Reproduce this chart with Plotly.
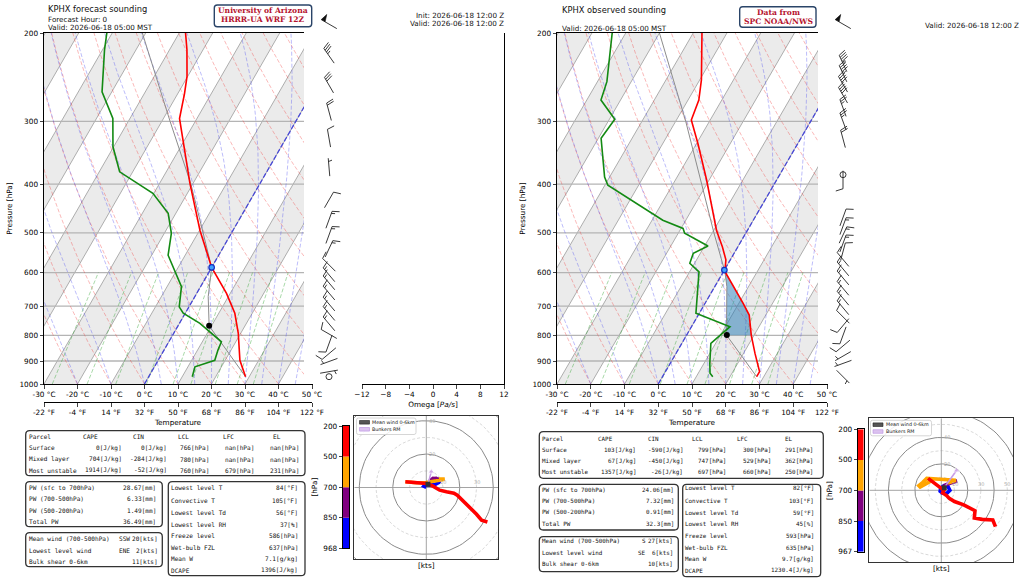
import numpy as np
import plotly.graph_objects as go

W, H = 1024, 580
SANS = "DejaVu Sans"
MONO = "DejaVu Sans Mono"
SERIF = "DejaVu Serif"

# ---------------- forecast sounding (left) ----------------
fc_t_p = [967, 938, 897, 793, 723, 660, 586, 494, 398, 296, 264, 244, 216, 200]
fc_t = [28.9, 27.1, 24.4, 19.3, 14.8, 8.9, 0.0, -9.9, -21.0, -35.2, -38.0, -40.2, -44.8, -48.1]
fc_td_p = [967, 924, 897, 856, 824, 757, 723, 702, 640, 554, 501, 457, 417, 378, 337, 296, 262, 216, 200]
fc_td = [13.0, 12.1, 16.9, 16.1, 15.7, 6.1, -0.6, -2.9, -5.7, -15.1, -17.9, -22.3, -30.3, -43.9, -50.2,
         -55.1, -62.9, -69.4, -71.6]
fc_parcel_p = [967, 766, 670, 586, 500, 400, 300, 200]
fc_parcel_t = [28.9, 9.3, 4.0, 0.0, -8.5, -20.5, -37.5, -61.0]
fc_lcl = (766, 9.3)
fc_frz = (586, 0.0)

fc_barb_p = [192, 222, 254, 287, 324, 370, 430, 471, 505, 538, 579, 606, 629, 659, 693, 724, 759, 795,
             831, 870, 902, 945, 967]
fc_barb_dir = [300, 325, 330, 345, 350, 355, 30, 20, 20, 25, 315, 320, 320, 320, 320, 320, 320, 300,
               200, 230, 250, 80, 70]
fc_barb_spd = [50, 35, 30, 20, 10, 5, 10, 15, 15, 15, 10, 15, 15, 15, 15, 15, 15, 10, 10, 10, 5, 5, 2]

# ---------------- observed sounding (right) ----------------
ob_t_p = [967, 945, 869, 800, 729, 691, 597, 566, 533, 494, 392, 332, 298, 272, 248, 200]
ob_t = [27.9, 27.9, 23.4, 19.2, 15.1, 11.3, 0.4, -1.3, -4.6, -9.2, -20.8, -29.6, -35.6, -36.8, -39.5, -47.4]
ob_td_p = [967, 952, 909, 830, 769, 723, 598, 575, 549, 531, 501, 490, 472, 402, 387, 324, 297, 272, 250, 200]
ob_td = [14.9, 13.5, 11.7, 8.6, 11.4, -1.0, -7.2, -11.4, -12.1, -9.0, -18.1, -19.4, -26.8, -49.1, -51.5,
         -59.2, -58.4, -65.8, -67.2, -74.0]
ob_parcel_p = [967, 800, 729, 691, 640, 597, 500, 400, 300, 200]
ob_parcel_t = [27.9, 11.9, 8.4, 6.4, 3.6, 0.4, -9.5, -21.5, -37.0, -60.0]
ob_lcl = (799, 11.9)
ob_frz = (593, 0.0)
ob_cin_layer = (597, 800)

ob_barb_p = [192, 230, 241, 253, 266, 282, 300, 325, 383, 392, 466, 485, 505, 525, 545, 565, 590, 615,
             645, 675, 705, 735, 765, 800, 840, 880, 910, 967]
ob_barb_dir = [300, 335, 335, 330, 330, 340, 340, 345, 0, 180, 20, 20, 25, 20, 15, 320, 320, 320, 320,
               320, 320, 315, 220, 200, 230, 240, 250, 135]
ob_barb_spd = [50, 45, 45, 40, 40, 25, 25, 20, 0, 10, 10, 15, 15, 15, 10, 10, 15, 15, 15, 15, 15, 10, 10,
               10, 10, 5, 5, 5]

# ---------------- hodographs (u, v in kts) ----------------
hodo_levels = ["968", "850", "700", "500", "200"]
hodo_levels_ob = ["967", "850", "700", "500", "200"]
layer_colors = ["blue", "purple", "orange", "red"]

fc_hodo_u = [[0.0, -1.5, -0.5, 2.5, 5.5, 7.5, 8.0],
             [8.0, 6.0, 3.5, 2.0, 4.0, 7.5],
             [7.5, 11.0, 6.0, 0.0, -6.0, -12.5],
             [-12.5, -6.0, 0.0, 4.0, 8.0, 12.0, 16.5, 18.5, 22.0, 26.0, 30.0, 33.0, 36.5]]
fc_hodo_v = [[0.0, 0.8, 2.0, 1.5, 2.0, 3.0, 4.0],
             [4.0, 5.5, 5.0, 4.0, 5.5, 5.0],
             [5.0, 5.0, 4.0, 3.0, 2.8, 3.4],
             [3.4, 3.0, 2.4, 0.8, -1.6, -2.6, -3.4, -4.6, -8.0, -12.5, -16.0, -19.6, -20.6]]
fc_mean_wind = (1.0, 2.0)
fc_bunkers = (3.0, 9.5)

ob_hodo_u = [[0.0, -1.0, -0.5, 2.0, 5.0, 6.5, 4.0, 0.5, -0.5],
             [-0.5, 3.0, 7.0, 10.0, 12.0, 9.0, 5.0],
             [5.0, 9.0, 11.0, 5.0, -2.0, -6.0, -11.0, -14.0, -17.0, -16.0, -11.0, -7.0, -10.0],
             [-10.0, -7.0, -3.0, 0.0, 2.0, 1.0, 4.0, 6.0, 10.0, 17.0, 25.5, 25.0, 31.0, 39.0, 41.0]]
ob_hodo_v = [[-1.0, -1.5, 1.5, 3.5, 3.0, 0.0, -2.5, -2.0, 0.5],
             [0.5, 4.0, 5.5, 6.0, 7.0, 6.5, 5.5],
             [5.5, 7.0, 7.5, 8.0, 8.5, 8.5, 9.0, 6.0, 3.5, 2.5, 5.5, 7.5, 9.0],
             [9.0, 6.5, 3.5, 1.5, 0.0, -2.0, -4.0, -6.0, -8.5, -11.0, -15.5, -21.0, -22.0, -22.5, -27.5]]
ob_mean_wind = (2.25, 2.0)
ob_bunkers = (11.5, 15.0)

# ---------------- tables ----------------
parcel_names = ["Surface", "Mixed layer", "Most unstable"]
fc_cape = [0, 704, 1914]
fc_cin = [0, -284, -52]
fc_lcl_tab = [766, 780, 760]
fc_lfc = [np.nan, np.nan, 679]
fc_el = [np.nan, np.nan, 231]
ob_cape = [103, 67, 1357]
ob_cin = [-590, -450, -26]
ob_lcl_tab = [799, 747, 697]
ob_lfc = [300, 529, 660]
ob_el = [291, 362, 250]

pw_names = ["PW (sfc to 700hPa)", "PW (700-500hPa)", "PW (500-200hPa)", "Total PW"]
fc_pw = [28.67, 6.33, 1.49, 36.49]
ob_pw = [24.06, 7.32, 0.91, 32.3]

wind_names = ["Mean wind (700-500hPa)", "Lowest level wind", "Bulk shear 0-6km"]
fc_wind_dir = ["SSW", "ENE", ""]
fc_wind_spd = [20, 2, 11]
ob_wind_dir = ["S", "SE", ""]
ob_wind_spd = [27, 6, 10]

info_names = ["Lowest level T", "Convective T", "Lowest level Td", "Lowest level RH", "Freeze level",
              "Wet-bulb FZL", "Mean W", "DCAPE"]
fc_info = ["84[°F]", "105[°F]", "56[°F]", "37[%]", "586[hPa]", "637[hPa]", "7.1[g/kg]", "1396[J/kg]"]
ob_info = ["82[°F]", "103[°F]", "59[°F]", "45[%]", "593[hPa]", "635[hPa]", "9.7[g/kg]", "1230.4[J/kg]"]

# ---------------- diagram constants ----------------
T_TICKS = list(range(-30, 51, 10))
P_TICKS = [200, 300, 400, 500, 600, 700, 800, 900, 1000]
BAND_STARTS = list(range(-90, 51, 20))
ISOTHERMS = list(range(-110, 51, 10))
DRY_T0 = list(range(-30, 151, 10))
MOIST_T0 = [-30, -20, -10] + list(range(0, 46, 5))
MIX_W = [0.4, 1, 2, 4, 7, 10, 16, 24, 32]
OMEGA_TICKS = [-12, -8, -4, 0, 4, 8, 12]

SKEW = 37.5
LOGPX = np.log10(5) / 351.0
BARB_L = 18.0
P_LINE = np.geomspace(1000, 200, 60)
P_MIX = np.geomspace(1000, 600, 20)


def fxp(px):
    return px / W


def fyp(py):
    return 1 - py / H


def sx(t, p):
    return np.asarray(t, float) + SKEW * np.log(1000.0 / np.asarray(p, float))


def joined(xs_list, ys_list):
    X, Y = [], []
    for xs, ys in zip(xs_list, ys_list):
        X += list(xs) + [None]
        Y += list(ys) + [None]
    return X, Y


def moist_lapse(t0, p):
    Rd, Cp, Lv, eps = 287.04, 1005.7, 2.501e6, 0.622

    def f(T, pp):
        es = 6.112 * np.exp(17.67 * (T - 273.15) / (T - 29.65))
        rs = eps * es / (pp - es)
        return (Rd * T + Lv * rs) / (Cp + Lv * Lv * rs * eps / (Rd * T * T)) / pp

    T = np.asarray(t0, float) + 273.15
    out = [T.copy()]
    for i in range(len(p) - 1):
        h = p[i + 1] - p[i]
        k1 = f(T, p[i])
        k2 = f(T + h / 2 * k1, p[i] + h / 2)
        k3 = f(T + h / 2 * k2, p[i] + h / 2)
        k4 = f(T + h * k3, p[i + 1])
        T = T + h / 6 * (k1 + 2 * k2 + 2 * k3 + k4)
        out.append(T.copy())
    return np.array(out) - 273.15


fig = go.Figure()


def skewt(xa, ya, t_p, t, td_p, td, par_p, par_t, lcl, frz, cin=None):
    # shaded isotherm bands
    bx, by = [], []
    for t1 in BAND_STARTS:
        bx += [sx(t1, 1000), sx(t1 + 10, 1000), sx(t1 + 10, 200), sx(t1, 200), sx(t1, 1000), None]
        by += [1000, 1000, 200, 200, 1000, None]
    fig.add_trace(go.Scatter(x=bx, y=by, xaxis=xa, yaxis=ya, mode="lines", fill="toself",
                             fillcolor="#ebebeb", line=dict(width=0), hoverinfo="skip"))
    # isotherms
    X, Y = joined([[sx(ti, 1000), sx(ti, 200)] for ti in ISOTHERMS], [[1000, 200]] * len(ISOTHERMS))
    fig.add_trace(go.Scatter(x=X, y=Y, xaxis=xa, yaxis=ya, mode="lines",
                             line=dict(color="#9a9a9a", width=0.8), hoverinfo="skip"))
    # pressure grid
    hp = P_TICKS[1:-1]
    X, Y = joined([[-30, 50]] * len(hp), [[p, p] for p in hp])
    fig.add_trace(go.Scatter(x=X, y=Y, xaxis=xa, yaxis=ya, mode="lines",
                             line=dict(color="#b4b4b4", width=1.3), hoverinfo="skip"))
    # dry adiabats
    dry = [(t0 + 273.15) * (P_LINE / 1000.0) ** 0.2857 - 273.15 for t0 in DRY_T0]
    X, Y = joined([sx(d, P_LINE) for d in dry], [P_LINE] * len(dry))
    fig.add_trace(go.Scatter(x=X, y=Y, xaxis=xa, yaxis=ya, mode="lines",
                             line=dict(color="rgba(240,60,60,0.45)", width=0.8, dash="4px,2px"),
                             hoverinfo="skip"))
    # moist adiabats
    moist = moist_lapse(MOIST_T0, P_LINE)
    X, Y = joined([sx(moist[:, i], P_LINE) for i in range(moist.shape[1])], [P_LINE] * moist.shape[1])
    fig.add_trace(go.Scatter(x=X, y=Y, xaxis=xa, yaxis=ya, mode="lines",
                             line=dict(color="rgba(70,70,240,0.45)", width=0.8, dash="4px,2px"),
                             hoverinfo="skip"))
    # mixing ratio lines
    lines = []
    for w in MIX_W:
        e = P_MIX * w / (622.0 + w)
        lg = np.log(e / 6.112)
        lines.append(sx(243.5 * lg / (17.67 - lg), P_MIX))
    X, Y = joined(lines, [P_MIX] * len(lines))
    fig.add_trace(go.Scatter(x=X, y=Y, xaxis=xa, yaxis=ya, mode="lines",
                             line=dict(color="rgba(40,160,40,0.5)", width=0.8, dash="4px,2px"),
                             hoverinfo="skip"))
    # 0 C isotherm
    fig.add_trace(go.Scatter(x=[sx(0, 1000), sx(0, 200)], y=[1000, 200], xaxis=xa, yaxis=ya, mode="lines",
                             line=dict(color="#4848d8", width=1.3, dash="5px,2px"), hoverinfo="skip"))
    # CIN shading
    if cin is not None:
        lo, hi = cin
        ep, et = np.array(t_p, float), np.array(t, float)
        pp, pt = np.array(par_p, float), np.array(par_t, float)
        me = (ep >= lo) & (ep <= hi)
        mp = (pp >= lo) & (pp <= hi)
        cx = list(sx(et[me], ep[me])) + list(sx(pt[mp], pp[mp])[::-1])
        cy = list(ep[me]) + list(pp[mp][::-1])
        fig.add_trace(go.Scatter(x=cx, y=cy, xaxis=xa, yaxis=ya, mode="lines", fill="toself",
                                 fillcolor="rgba(31,119,180,0.5)", line=dict(width=0), hoverinfo="skip"))
    # parcel, temperature, dewpoint
    fig.add_trace(go.Scatter(x=sx(par_t, par_p), y=par_p, xaxis=xa, yaxis=ya, mode="lines",
                             line=dict(color="#8c8c8c", width=1.0), hoverinfo="skip"))
    fig.add_trace(go.Scatter(x=sx(t, t_p), y=t_p, xaxis=xa, yaxis=ya, mode="lines",
                             line=dict(color="red", width=1.6), hoverinfo="skip"))
    fig.add_trace(go.Scatter(x=sx(td, td_p), y=td_p, xaxis=xa, yaxis=ya, mode="lines",
                             line=dict(color="#138a13", width=1.6), hoverinfo="skip"))
    fig.add_trace(go.Scatter(x=[sx(lcl[1], lcl[0])], y=[lcl[0]], xaxis=xa, yaxis=ya, mode="markers",
                             marker=dict(color="black", size=6), hoverinfo="skip"))
    fig.add_trace(go.Scatter(x=[sx(frz[1], frz[0])], y=[frz[0]], xaxis=xa, yaxis=ya, mode="markers",
                             marker=dict(color="#3fa0ff", size=5.5, line=dict(color="#1530c0", width=1.2)),
                             hoverinfo="skip"))


def barbs(xa, ya, pres, dirs, spds):
    lx, ly, fx_, fy_, cx, cy = [], [], [], [], [], []
    fh, fw, sp = 0.4 * BARB_L, 0.25 * BARB_L, 0.125 * BARB_L
    for p0, d, s in zip(pres, dirs, spds):
        r = 5 * int(round(s / 5.0))
        if r == 0:
            cx.append(0.0)
            cy.append(p0)
            continue
        nflag, rem = divmod(r, 50)
        nbarb, rem = divmod(rem, 10)
        half = rem >= 5
        rad = np.deg2rad(d)
        u, v = -s * np.sin(rad), -s * np.cos(rad)
        ang = np.arctan2(v, u) + np.pi / 2
        c, sn = np.cos(ang), np.sin(ang)

        def put(pts, X, Y):
            for a, b in pts:
                b = b - BARB_L / 2
                dx = a * c - b * sn
                dy = a * sn + b * c
                X.append(dx)
                Y.append(p0 * 10 ** (-dy * LOGPX))
            X.append(None)
            Y.append(None)

        put([(0, 0), (0, BARB_L)], lx, ly)
        off = BARB_L
        for i in range(nflag):
            if off != BARB_L:
                off += sp / 2
            put([(0, off), (fh, off - fw / 2), (0, off - fw)], fx_, fy_)
            off -= fw + sp
        for i in range(nbarb):
            put([(0, off), (fh, off + fw / 2)], lx, ly)
            off -= sp
        if half:
            if off == BARB_L:
                off -= 1.5 * sp
            put([(0, off), (fh / 2, off + fw / 4)], lx, ly)
    fig.add_trace(go.Scatter(x=lx, y=ly, xaxis=xa, yaxis=ya, mode="lines",
                             line=dict(color="#222", width=0.9), hoverinfo="skip"))
    if fx_:
        fig.add_trace(go.Scatter(x=fx_, y=fy_, xaxis=xa, yaxis=ya, mode="lines", fill="toself",
                                 fillcolor="#111", line=dict(color="#111", width=0.6), hoverinfo="skip"))
    if cx:
        fig.add_trace(go.Scatter(x=cx, y=cy, xaxis=xa, yaxis=ya, mode="markers",
                                 marker=dict(symbol="circle-open", size=6, color="#222", line=dict(width=0.9)),
                                 hoverinfo="skip"))


def hodograph(xa, ya, us, vs, mean_wind, bunkers, R):
    th = np.linspace(0, 2 * np.pi, 120)
    for r in range(10, 70, 10):
        solid = r % 20 == 0
        fig.add_trace(go.Scatter(x=r * np.cos(th), y=r * np.sin(th), xaxis=xa, yaxis=ya, mode="lines",
                                 line=dict(color="#8a8a8a" if solid else "#cfcfcf", width=1.0 if solid else 0.8,
                                           dash="solid" if solid else "3px,2px"), hoverinfo="skip"))
    fig.add_trace(go.Scatter(x=[-R, R, None, 0, 0], y=[0, 0, None, -R, R], xaxis=xa, yaxis=ya, mode="lines",
                             line=dict(color="#9a9a9a", width=0.9), hoverinfo="skip"))
    for u, v, col in zip(us, vs, layer_colors):
        fig.add_trace(go.Scatter(x=u, y=v, xaxis=xa, yaxis=ya, mode="lines",
                                 line=dict(color=col, width=3.6), hoverinfo="skip"))
    fig.add_trace(go.Scatter(x=[mean_wind[0], bunkers[0]], y=[mean_wind[1], bunkers[1]], xaxis=xa, yaxis=ya,
                             mode="lines+markers", line=dict(color="#c89be6", width=1.6),
                             marker=dict(symbol=["circle", "triangle-up"], size=[0, 6], color="#c89be6"),
                             hoverinfo="skip"))
    fig.add_trace(go.Scatter(x=[mean_wind[0]], y=[mean_wind[1]], xaxis=xa, yaxis=ya, mode="markers",
                             marker=dict(symbol="square", size=5, color="#333"), hoverinfo="skip"))


def colorbar(xa, ya):
    fig.add_trace(go.Bar(x=[0, 0, 0, 0], y=[1, 1, 1, 1], base=[0, 1, 2, 3], width=1, xaxis=xa, yaxis=ya,
                         marker=dict(color=layer_colors, line=dict(width=0)), hoverinfo="skip"))


skewt("x", "y", fc_t_p, fc_t, fc_td_p, fc_td, fc_parcel_p, fc_parcel_t, fc_lcl, fc_frz)
skewt("x4", "y4", ob_t_p, ob_t, ob_td_p, ob_td, ob_parcel_p, ob_parcel_t, ob_lcl, ob_frz, ob_cin_layer)
fig.add_trace(go.Scatter(x=[None], y=[None], xaxis="x2", yaxis="y", hoverinfo="skip"))
fig.add_trace(go.Scatter(x=[None], y=[None], xaxis="x5", yaxis="y4", hoverinfo="skip"))
fig.add_trace(go.Scatter(x=[None], y=[None], xaxis="x3", yaxis="y3", hoverinfo="skip"))
barbs("x10", "y10", fc_barb_p, fc_barb_dir, fc_barb_spd)
barbs("x11", "y11", ob_barb_p, ob_barb_dir, ob_barb_spd)
hodograph("x6", "y6", fc_hodo_u, fc_hodo_v, fc_mean_wind, fc_bunkers, 43)
hodograph("x7", "y7", ob_hodo_u, ob_hodo_v, ob_mean_wind, ob_bunkers, 54.5)
colorbar("x8", "y8")
colorbar("x9", "y9")

# ---------------- axes ----------------
tf = dict(family=SANS, size=7.3, color="black")
ydom = [fyp(384), fyp(33)]


def t_axis(x0, x1, anchor):
    return dict(domain=[fxp(x0), fxp(x1)], anchor=anchor, range=[-30, 50], tickvals=T_TICKS,
                ticktext=[f"{t} °C" for t in T_TICKS], ticks="outside", ticklen=3.5, tickwidth=0.8,
                showline=True, mirror=True, linecolor="black", linewidth=1, showgrid=False, zeroline=False,
                tickfont=tf, automargin=False)


def f_axis(over):
    return dict(overlaying=over, anchor="free", position=fyp(402), side="bottom", range=[-30, 50],
                tickvals=T_TICKS, ticktext=[f"{round(t * 9 / 5 + 32)} °F" for t in T_TICKS], ticks="outside",
                ticklen=3.5, tickwidth=0.8, showline=True, linecolor="black", linewidth=1, showgrid=False,
                zeroline=False, tickfont=tf, title=dict(text="Temperature", font=tf, standoff=3), automargin=False)


def p_axis(anchor):
    return dict(domain=ydom, anchor=anchor, type="log", range=[3, np.log10(200)], tickvals=P_TICKS,
                ticktext=[str(p) for p in P_TICKS], ticks="outside", ticklen=3.5, tickwidth=0.8, showline=True,
                mirror=True, linecolor="black", linewidth=1, showgrid=False, zeroline=False, tickfont=tf,
                title=dict(text="Pressure [hPa]", font=tf, standoff=5), automargin=False)


def hodo_axes(x0, x1, y0, y1, R, anchor):
    xa = dict(domain=[fxp(x0), fxp(x1)], anchor=anchor[1], range=[-R, R], showticklabels=False, ticks="",
              showgrid=False, zeroline=False, showline=True, mirror=True, linecolor="#333", linewidth=1.2,
              title=dict(text="[kts]", font=tf, standoff=3), automargin=False)
    ya = dict(domain=[fyp(y1), fyp(y0)], anchor=anchor[0], range=[-R, R], showticklabels=False, ticks="",
              showgrid=False, zeroline=False, showline=True, mirror=True, linecolor="#333", linewidth=1.2,
              automargin=False)
    return xa, ya


def cbar_axes(x0, x1, y0, y1, labels, anchor):
    xa = dict(domain=[fxp(x0), fxp(x1)], anchor=anchor[1], range=[-0.5, 0.5], showticklabels=False, ticks="",
              showgrid=False, zeroline=False, showline=True, mirror=True, linecolor="black", linewidth=1,
              automargin=False)
    ya = dict(domain=[fyp(y1), fyp(y0)], anchor=anchor[0], range=[0, 4], tickvals=[0, 1, 2, 3, 4],
              ticktext=labels, ticks="outside", ticklen=3, tickwidth=0.8, showgrid=False, zeroline=False,
              showline=True, mirror=True, linecolor="black", linewidth=1, tickfont=tf,
              title=dict(text="[hPa]", font=tf, standoff=4), automargin=False)
    return xa, ya


def barb_axes(xc, anchor):
    xa = dict(domain=[fxp(xc - 25), fxp(xc + 25)], anchor=anchor[1], range=[-25, 25], visible=False,
              automargin=False)
    ya = dict(domain=[fyp(384), 1], anchor=anchor[0], type="log",
              range=[3, np.log10(200) - 33 * LOGPX], visible=False, automargin=False)
    return xa, ya


h6x, h6y = hodo_axes(354.3, 498.3, 415.7, 559.3, 43, ("x6", "y6"))
h7x, h7y = hodo_axes(869.3, 1013.3, 418.3, 562.3, 54.5, ("x7", "y7"))
c8x, c8y = cbar_axes(342.7, 349.0, 426.0, 548.3, hodo_levels, ("x8", "y8"))
c9x, c9y = cbar_axes(857.7, 863.7, 429.3, 551.7, hodo_levels_ob, ("x9", "y9"))
b10x, b10y = barb_axes(329, ("x10", "y10"))
b11x, b11y = barb_axes(843, ("x11", "y11"))

omega_x = dict(domain=[fxp(362), fxp(504)], anchor="y3", range=[-12, 12], tickvals=OMEGA_TICKS, ticks="outside",
               ticklen=3.5, tickwidth=0.8, showline=True, linecolor="black", linewidth=1, showgrid=False,
               zeroline=False, tickfont=tf, title=dict(text="Omega [<i>Pa/s</i>]", font=tf, standoff=3),
               automargin=False)
omega_y = dict(domain=ydom, anchor="x3", type="log", range=[3, np.log10(200)], side="right", showline=True,
               linecolor="black", linewidth=1, showticklabels=False, ticks="", showgrid=False, zeroline=False,
               automargin=False)

# ---------------- annotations and boxes ----------------
ann = []
shapes = []


def txt(x, y, s, size=6.0, anchor="left", family=MONO, color="#111", **kw):
    ann.append(dict(x=fxp(x), y=fyp(y), xref="paper", yref="paper", text=s, showarrow=False, xanchor=anchor,
                    yanchor="middle", borderpad=0, borderwidth=0, font=dict(size=size, family=family, color=color),
                    **kw))


def rbox(x0, y0, x1, y1, r=4.0, color="#333", width=1.3, fill="rgba(0,0,0,0)"):
    def P(x, y):
        return f"{x / W:.5f},{1 - y / H:.5f}"
    path = (f"M {P(x0 + r, y0)} L {P(x1 - r, y0)} Q {P(x1, y0)} {P(x1, y0 + r)} "
            f"L {P(x1, y1 - r)} Q {P(x1, y1)} {P(x1 - r, y1)} L {P(x0 + r, y1)} "
            f"Q {P(x0, y1)} {P(x0, y1 - r)} L {P(x0, y0 + r)} Q {P(x0, y0)} {P(x0 + r, y0)} Z")
    shapes.append(dict(type="path", xref="paper", yref="paper", path=path, line=dict(color=color, width=width),
                       fillcolor=fill, layer="above"))


def rect(x0, y0, x1, y1, fill, edge):
    shapes.append(dict(type="rect", xref="paper", yref="paper", x0=fxp(x0), x1=fxp(x1), y0=fyp(y1), y1=fyp(y0),
                       fillcolor=fill, line=dict(color=edge, width=0.6), layer="above"))


def fmt(v, unit):
    return f"{'nan' if np.isnan(v) else int(v)}[{unit}]"


def tables(g, cape, cin, lcl, lfc, el, pw, wdir, wspd, info):
    rbox(*g["parcel_box"])
    rbox(*g["pw_box"])
    rbox(*g["wind_box"])
    rbox(*g["info_box"])
    fs = g["fs"]
    y0 = g["parcel_rows"]
    txt(g["lab_x"], y0[0], "Parcel", fs)
    for name, hx in zip(["CAPE", "CIN", "LCL", "LFC", "EL"], g["head_x"]):
        txt(hx, y0[0], name, fs)
    cols = [[fmt(v, "J/kg") for v in cape], [fmt(v, "J/kg") for v in cin], [fmt(v, "hPa") for v in lcl],
            [fmt(v, "hPa") for v in lfc], [fmt(v, "hPa") for v in el]]
    for i, name in enumerate(parcel_names):
        txt(g["lab_x"], y0[i + 1], name, fs)
        for col, cx in zip(cols, g["val_x"]):
            txt(cx, y0[i + 1], col[i], fs, anchor="right")
    for name, v, y in zip(pw_names, pw, g["pw_rows"]):
        txt(g["lab_x"], y, name, fs)
        txt(g["pw_val_x"], y, f"{v}[mm]", fs, anchor="right")
    for name, d, v, y in zip(wind_names, wdir, wspd, g["wind_rows"]):
        txt(g["lab_x"], y, name, fs)
        if d:
            txt(g["dir_x"], y, d, fs, anchor="right")
        txt(g["wind_val_x"], y, f"{v}[kts]", fs, anchor="right")
    for name, v, y in zip(info_names, info, g["info_rows"]):
        txt(g["info_lab_x"], y, name, fs)
        txt(g["info_val_x"], y, v, fs, anchor="right")


left_geom = dict(parcel_box=(25.7, 430.7, 305, 475.7), pw_box=(25.7, 481.7, 162.3, 526.7),
                 wind_box=(25.7, 532.7, 162.3, 566.7), info_box=(168.3, 481.7, 305, 575.7), fs=6.1,
                 lab_x=28.5, parcel_rows=[436.7, 447.7, 459.0, 470.3], head_x=[83.3, 132.7, 178.3, 223.3, 272.7],
                 val_x=[121.7, 166.7, 209, 254, 299], pw_rows=[487.7, 498.7, 510.0, 521.5], pw_val_x=155.7,
                 wind_rows=[538.7, 550.0, 561.0], dir_x=130, wind_val_x=158.3,
                 info_rows=[487.7, 500.3, 512.7, 524.0, 535.3, 547.0, 558.7, 570.3], info_lab_x=171,
                 info_val_x=297.7)
right_geom = dict(parcel_box=(539.3, 431.7, 823.3, 478.3), pw_box=(539.3, 484.3, 678.3, 530),
                  wind_box=(539.3, 536.7, 678.3, 571.7), info_box=(682.7, 484.3, 820.7, 576.7), fs=5.9,
                  lab_x=542.3, parcel_rows=[439.3, 450.3, 461.3, 472.3], head_x=[598.3, 648.3, 692.3, 736.7, 785],
                  val_x=[636, 683.3, 726, 770.7, 812.7], pw_rows=[489.7, 500.7, 512.3, 523.7], pw_val_x=674,
                  wind_rows=[541.0, 552.7, 563.7], dir_x=646, wind_val_x=673.3,
                  info_rows=[487.7, 501.0, 513.3, 524.0, 536.0, 547.7, 559.3, 570.7], info_lab_x=685.3,
                  info_val_x=814)

tables(left_geom, fc_cape, fc_cin, fc_lcl_tab, fc_lfc, fc_el, fc_pw, fc_wind_dir, fc_wind_spd, fc_info)
tables(right_geom, ob_cape, ob_cin, ob_lcl_tab, ob_lfc, ob_el, ob_pw, ob_wind_dir, ob_wind_spd, ob_info)

# headers
txt(48, 8.5, "KPHX forecast sounding", 8.3, family=SANS)
txt(48, 19.3, "Forecast Hour: 0", 7.2, family=SANS)
txt(48, 27.3, "Valid: 2026-06-18 05:00 MST", 7.2, family=SANS)
txt(503.5, 15.5, "Init: 2026-06-18 12:00 Z", 7.2, anchor="right", family=SANS)
txt(503.5, 24.0, "Valid: 2026-06-18 12:00 Z", 7.2, anchor="right", family=SANS)
txt(562, 10.0, "KPHX observed sounding", 8.3, family=SANS)
txt(562, 28.3, "Valid: 2026-06-18 05:00 MST", 7.2, family=SANS)
txt(1018.5, 25.0, "Valid: 2026-06-18 12:00 Z", 7.2, anchor="right", family=SANS)

rbox(214.3, 5.0, 311.7, 26.7, r=3, color="#2a4468", width=1.4, fill="white")
txt(263, 10.8, "<b>University of Arizona</b>", 7.6, anchor="center", family=SERIF, color="#b5122e")
txt(263, 19.6, "<b>HRRR-UA WRF 12Z</b>", 7.6, anchor="center", family=SERIF, color="#b5122e")
rbox(739.7, 6.7, 816.0, 27.3, r=3, color="#2a4468", width=1.4, fill="white")
txt(778, 12.8, "<b>Data from</b>", 7.6, anchor="center", family=SERIF, color="#b5122e")
txt(778, 21.5, "<b>SPC NOAA/NWS</b>", 7.6, anchor="center", family=SERIF, color="#b5122e")

# hodograph legends and ring labels
for (bx0, by0, bx1, by1, tx, r1, r2, cx0, cx1), xa, ya, R in [
        ((356.5, 418.0, 416.0, 434.5, 372.0, 422.3, 429.3, 359.5, 369.5), "x6", "y6", 43),
        ((870.5, 420.3, 931.5, 435.8, 886.0, 424.7, 431.5, 873.0, 883.0), "x7", "y7", 54.5)]:
    rbox(bx0, by0, bx1, by1, r=2, color="#cccccc", width=0.8, fill="rgba(255,255,255,0.85)")
    rect(cx0, r1 - 1.8, cx1, r1 + 1.8, "#555555", "#222222")
    rect(cx0, r2 - 1.8, cx1, r2 + 1.8, "#dcc3f0", "#b98ee0")
    txt(tx, r1, "Mean wind 0-6km", 4.8, family=SANS)
    txt(tx, r2, "Bunkers RM", 4.8, family=SANS)
    for r in range(10, 70, 10):
        if r >= R:
            continue
        if r % 20:
            ann.append(dict(x=r, y=0, xref=xa, yref=ya, text=str(r), showarrow=False, xanchor="center",
                            yanchor="bottom", yshift=1, font=dict(size=5, family=SANS, color="#b0b0b0")))
        else:
            ann.append(dict(x=0, y=r, xref=xa, yref=ya, text=str(r), showarrow=False, xanchor="left",
                            yanchor="middle", xshift=1, font=dict(size=5, family=SANS, color="#b0b0b0")))

fig.update_layout(
    width=W, height=H, margin=dict(l=0, r=0, t=0, b=0, autoexpand=False), paper_bgcolor="white",
    plot_bgcolor="white", showlegend=False, barmode="overlay", hovermode=False,
    xaxis=t_axis(44, 312, "y"), yaxis=p_axis("x"), xaxis2=f_axis("x"),
    xaxis3=omega_x, yaxis3=omega_y,
    xaxis4=t_axis(557, 827, "y4"), yaxis4=p_axis("x4"), xaxis5=f_axis("x4"),
    xaxis6=h6x, yaxis6=h6y, xaxis7=h7x, yaxis7=h7y,
    xaxis8=c8x, yaxis8=c8y, xaxis9=c9x, yaxis9=c9y,
    xaxis10=b10x, yaxis10=b10y, xaxis11=b11x, yaxis11=b11y,
    annotations=ann, shapes=shapes,
)

# the page body has a default 8px margin; drop it so the figure fills the window exactly
fig.write_html("out.html", post_script="document.body.style.margin='0px';",
               config={"displayModeBar": False})
